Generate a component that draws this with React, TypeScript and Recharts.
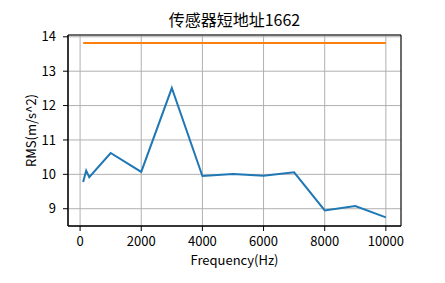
import React from 'react';
import { LineChart, Line, XAxis, YAxis, CartesianGrid, Label, ReferenceArea } from 'recharts';

const freqs = [100, 200, 300, 1000, 2000, 3000, 4000, 5000, 6000, 7000, 8000, 9000, 10000];
const rmsValues = [9.78, 10.11, 9.92, 10.62, 10.07, 12.51, 9.95, 10.01, 9.96, 10.06, 8.95, 9.08, 8.75];
const thresholdValue = 13.82;
const xTicks = [0, 2000, 4000, 6000, 8000, 10000];
const yTicks = [9, 10, 11, 12, 13, 14];
const xDomain = [-395, 10495];
const yDomain = [8.4975, 14.0525];
const titleText = '传感器短地址1662';
const xLabelText = 'Frequency(Hz)';
const yLabelText = 'RMS(m/s^2)';

const data = freqs.map((f, i) => ({ freq: f, rms: rmsValues[i], limit: thresholdValue }));

const FONT = '"Noto Sans CJK SC", "Noto Sans", sans-serif';

export default function App() {
  return (
    <div style={{ position: 'fixed', left: 0, top: 0, width: 445, height: 283, background: '#fff', fontFamily: FONT }}>
      <div
        style={{
          position: 'absolute',
          left: 68,
          width: 333,
          top: 11,
          textAlign: 'center',
          fontSize: 16,
          lineHeight: '16px',
          color: '#000',
          fontFamily: FONT,
        }}
      >
        {titleText}
      </div>
      <LineChart
        width={445}
        height={283}
        data={data}
        margin={{ top: 35, right: 44, bottom: 0, left: 0 }}
        style={{ fontFamily: FONT }}
      >
        <CartesianGrid stroke="#b0b0b0" strokeWidth={1} />
        <XAxis
          dataKey="freq"
          type="number"
          domain={xDomain}
          ticks={xTicks}
          allowDataOverflow
          height={57}
          tickSize={5}
          tickMargin={6}
          tickLine={{ stroke: '#000' }}
          axisLine={{ stroke: '#000' }}
          tick={{ fill: '#000', fontSize: 13 }}
        >
          <Label value={xLabelText} position="insideBottom" offset={18} style={{ fill: '#000', fontSize: 13 }} />
        </XAxis>
        <YAxis
          type="number"
          domain={yDomain}
          ticks={yTicks}
          allowDataOverflow
          width={68}
          tickSize={5}
          tickMargin={7}
          tickLine={{ stroke: '#000' }}
          axisLine={{ stroke: '#000' }}
          tick={{ fill: '#000', fontSize: 13 }}
        >
          <Label
            value={yLabelText}
            angle={-90}
            position="insideLeft"
            offset={31}
            style={{ fill: '#000', fontSize: 13, textAnchor: 'middle' }}
          />
        </YAxis>
        <Line
          dataKey="rms"
          type="linear"
          stroke="#1f77b4"
          strokeWidth={2}
          dot={false}
          isAnimationActive={false}
        />
        <Line
          dataKey="limit"
          type="linear"
          stroke="#ff7f0e"
          strokeWidth={2}
          dot={false}
          isAnimationActive={false}
        />
        <ReferenceArea
          x1={xDomain[0]}
          x2={xDomain[1]}
          y1={yDomain[0]}
          y2={yDomain[1]}
          fill="none"
          fillOpacity={0}
          stroke="#000"
          strokeWidth={1}
          strokeOpacity={1}
          ifOverflow="visible"
        />
      </LineChart>
    </div>
  );
}
